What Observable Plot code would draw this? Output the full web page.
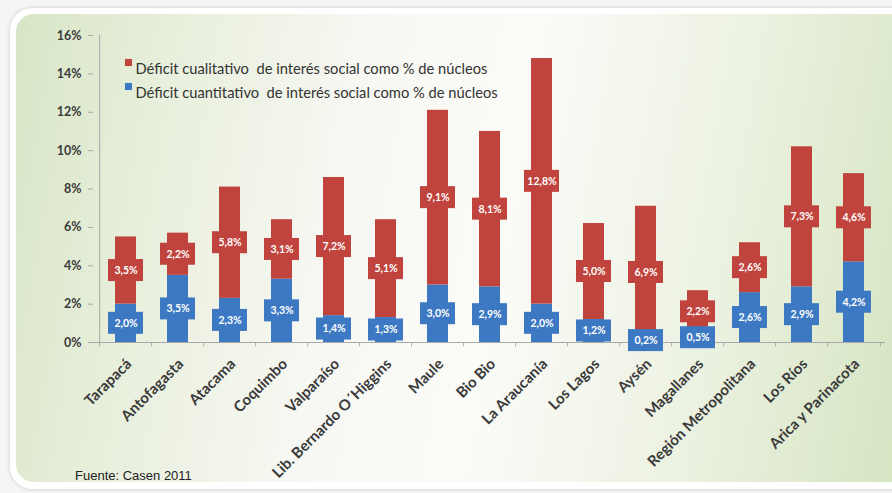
<!DOCTYPE html>
<html><head><meta charset="utf-8">
<script src="https://cdn.jsdelivr.net/npm/d3@7"></script>
<script src="https://cdn.jsdelivr.net/npm/@observablehq/plot@0.6"></script>
<style>
html,body{margin:0;padding:0;background:#f5f5f5;width:892px;height:493px;overflow:hidden;position:relative}
#card{position:absolute;left:10px;top:8px;width:920px;height:481px;background:#fff;border-radius:22px;box-shadow:0 0 4px rgba(0,0,0,0.18)}
#inner{position:absolute;left:16px;top:14px;width:920px;height:468px;border-radius:18px;
  background:linear-gradient(100deg,#d7e5c5 0%,#e8efdc 16%,#f7f8f3 36%,#fbfbf8 52%,#ecf2e2 74%,#d1e2bb 100%)}
#chart{position:absolute;left:0;top:0}
#src{position:absolute;left:75px;top:468px;font:13px "Liberation Sans",Arial,sans-serif;color:#222}
</style></head><body>
<div id="card"></div><div id="inner"></div><div id="chart"></div><div id="src">Fuente: Casen 2011</div>
<script>
const regiones = ["Tarapacá","Antofagasta","Atacama","Coquimbo","Valparaíso","Lib. Bernardo O´Higgins","Maule","Bio Bio","La Araucanía","Los Lagos","Aysén","Magallanes","Región Metropolitana","Los Ríos","Arica y Parinacota"];
const cuantitativo = [2.0,3.5,2.3,3.3,1.4,1.3,3.0,2.9,2.0,1.2,0.2,0.5,2.6,2.9,4.2];
const cualitativo = [3.5,2.2,5.8,3.1,7.2,5.1,9.1,8.1,12.8,5.0,6.9,2.2,2.6,7.3,4.6];
const yTicks = [0,2,4,6,8,10,12,14,16];
const serieCual = "Déficit cualitativo  de interés social como % de núcleos";
const serieCuan = "Déficit cuantitativo  de interés social como % de núcleos";
const series = [serieCual, serieCuan];
const colores = ["#c0433d","#3d79c3"];

const rows = regiones.flatMap((r,i)=>[
  {region:r, serie:serieCuan, y1:0, y2:cuantitativo[i], value:cuantitativo[i]},
  {region:r, serie:serieCual, y1:cuantitativo[i], y2:cuantitativo[i]+cualitativo[i], value:cualitativo[i]}
]);
const mid = d => (d.y1+d.y2)/2;
const fmt = d => d.value.toFixed(1).replace(".", ",") + "%";

const W=892, H=493, ml=93, mr=7, mt=35, mb=151;
const step = (W-ml-mr)/regiones.length;
const font = "Lato, 'Open Sans', sans-serif";

const chart = Plot.plot({
  width:W, height:H, marginLeft:ml, marginRight:mr, marginTop:mt, marginBottom:mb,
  style:{background:"transparent", fontFamily:font, color:"#3a3a3a", overflow:"visible"},
  x:{domain:regiones, paddingInner:0.6, paddingOuter:0.3, label:null},
  y:{domain:[0,16], label:null},
  color:{domain:series, range:colores},
  marks:[
    Plot.ruleY([0], {stroke:"#a8a8a8"}),
    Plot.ruleX(regiones.slice(0,1), {x:d=>d, y1:0, y2:16, dx:-step/2, stroke:"#a8a8a8"}),
    Plot.ruleX(regiones, {x:d=>d, y1:0, y2:-0.22, dx:-step/2, stroke:"#a8a8a8"}),
    Plot.ruleX(regiones.slice(-1), {x:d=>d, y1:0, y2:-0.22, dx:step/2, stroke:"#a8a8a8"}),
    Plot.barY(rows, {x:"region", y1:"y1", y2:"y2", fill:"serie"}),
    Plot.barY(rows, {x:"region", y1:mid, y2:mid, fill:"serie", insetLeft:-7, insetRight:-7, insetTop:-11, insetBottom:-11}),
    Plot.text(rows, {x:"region", y:mid, text:fmt, fill:"white", fontWeight:"bold", fontSize:10.5}),
    Plot.axisY({ticks:yTicks, tickFormat:d=>d+"%", tickSize:5, tickPadding:7, stroke:"#a8a8a8", fill:"#3a3a3a", fontWeight:"bold", fontSize:12.5, label:null}),
    Plot.axisX({tickRotate:-45, tickSize:0, tickPadding:19, dx:3, fill:"#3a3a3a", fontWeight:"bold", fontSize:15, label:null}),
    Plot.dot([serieCual], {frameAnchor:"top-left", dx:128-ml, dy:62-mt, symbol:"square", r:4, fill:d=>d}),
    Plot.dot([serieCuan], {frameAnchor:"top-left", dx:128-ml, dy:86-mt, symbol:"square", r:4, fill:d=>d}),
    Plot.text([serieCual], {frameAnchor:"top-left", dx:135-ml, dy:63-mt, text:d=>d, textAnchor:"start", fontSize:14.7, fill:"#333"}),
    Plot.text([serieCuan], {frameAnchor:"top-left", dx:135-ml, dy:87-mt, text:d=>d, textAnchor:"start", fontSize:14.7, fill:"#333"})
  ]
});
document.getElementById("chart").appendChild(chart);
</script>
</body></html>
